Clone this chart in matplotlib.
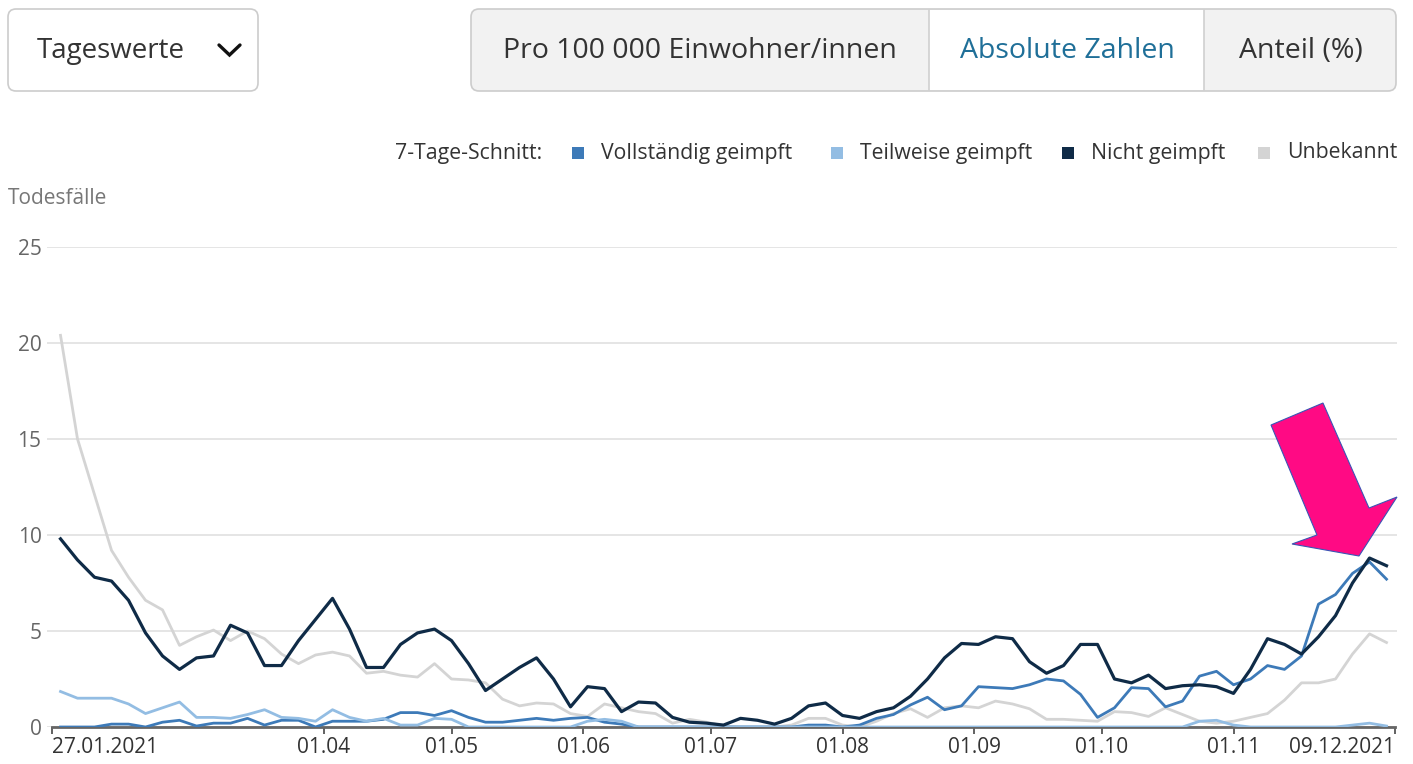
import numpy as np
import pandas as pd
import matplotlib
matplotlib.use("Agg")
import matplotlib.pyplot as plt
import matplotlib.dates as mdates
from matplotlib.patches import FancyBboxPatch, Rectangle, Polygon

plt.rcParams['font.family'] = ['Open Sans', 'DejaVu Sans']

start = pd.Timestamp('2021-01-27')
tage = list(range(2, 315, 4))

vollstaendig = [0, 0, 0, 0.15, 0.15, 0, 0.25, 0.35, 0.05, 0.2,
                0.2, 0.45, 0.1, 0.35, 0.35, 0, 0.3, 0.3, 0.3, 0.4,
                0.75, 0.75, 0.6, 0.85, 0.5, 0.25, 0.25, 0.35, 0.45, 0.35,
                0.45, 0.5, 0.25, 0.15, 0, 0, 0, 0, 0, 0,
                0, 0, 0, 0, 0.1, 0.1, 0, 0.1, 0.45, 0.65,
                1.15, 1.55, 0.9, 1.1, 2.1, 2.05, 2.0, 2.2, 2.5, 2.4,
                1.7, 0.5, 1.0, 2.05, 2.0, 1.05, 1.35, 2.65, 2.9, 2.2,
                2.5, 3.2, 3.0, 3.7, 6.4, 6.9, 8.0, 8.6, 7.7]

teilweise = [1.85, 1.5, 1.5, 1.5, 1.2, 0.7, 1.0, 1.3, 0.5, 0.5,
             0.45, 0.65, 0.9, 0.5, 0.45, 0.3, 0.9, 0.5, 0.3, 0.45,
             0.1, 0.1, 0.45, 0.4, 0, 0, 0, 0, 0, 0,
             0, 0.3, 0.4, 0.3, 0, 0, 0, 0, 0, 0,
             0, 0, 0, 0, 0, 0, 0, 0, 0, 0,
             0, 0, 0, 0, 0, 0, 0, 0, 0, 0,
             0, 0, 0, 0, 0, 0, 0, 0.3, 0.35, 0.1,
             0, 0, 0, 0, 0, 0, 0.1, 0.2, 0.05]

nicht = [9.8, 8.7, 7.8, 7.6, 6.6, 4.9, 3.7, 3.0, 3.6, 3.7,
         5.3, 4.9, 3.2, 3.2, 4.5, 5.6, 6.7, 5.1, 3.1, 3.1,
         4.3, 4.9, 5.1, 4.5, 3.3, 1.9, 2.5, 3.1, 3.6, 2.5,
         1.05, 2.1, 2.0, 0.8, 1.3, 1.25, 0.5, 0.25, 0.2, 0.1,
         0.45, 0.35, 0.15, 0.45, 1.1, 1.25, 0.6, 0.45, 0.8, 1.0,
         1.6, 2.5, 3.6, 4.35, 4.3, 4.7, 4.6, 3.4, 2.8, 3.2,
         4.3, 4.3, 2.5, 2.3, 2.7, 2.0, 2.15, 2.2, 2.1, 1.75,
         3.0, 4.6, 4.3, 3.8, 4.7, 5.8, 7.5, 8.8, 8.4]

unbekannt = [20.4, 15.0, 12.1, 9.2, 7.8, 6.6, 6.1, 4.25, 4.7, 5.05,
             4.5, 5.0, 4.6, 3.8, 3.3, 3.75, 3.9, 3.7, 2.8, 2.9,
             2.7, 2.6, 3.3, 2.5, 2.45, 2.3, 1.45, 1.1, 1.25, 1.2,
             0.7, 0.55, 1.2, 1.0, 0.8, 0.7, 0.2, 0.4, 0.25, 0.05,
             0, 0, 0, 0.1, 0.45, 0.45, 0.1, 0, 0.3, 0.7,
             0.95, 0.5, 1.0, 1.1, 1.0, 1.35, 1.2, 0.95, 0.4, 0.4,
             0.35, 0.3, 0.8, 0.75, 0.55, 1.0, 0.65, 0.3, 0.2, 0.3,
             0.5, 0.7, 1.4, 2.3, 2.3, 2.5, 3.8, 4.85, 4.4]

tick_daten = ['2021-01-27', '2021-04-01', '2021-05-01', '2021-06-01', '2021-07-01',
              '2021-08-01', '2021-09-01', '2021-10-01', '2021-11-01', '2021-12-09']
tick_labels = ['27.01.2021', '01.04', '01.05', '01.06', '01.07',
               '01.08', '01.09', '01.10', '01.11', '09.12.2021']

legende = ['Vollständig geimpft', 'Teilweise geimpft', 'Nicht geimpft', 'Unbekannt']
farben = ['#3d7ab8', '#93bde3', '#0f2b47', '#d4d4d4']

W, H = 1413, 764
fig = plt.figure(figsize=(W / 100, H / 100), dpi=100)

# Diagramm
ax = fig.add_axes([47 / W, 37 / H, 1350 / W, 480 / H])
x = start + pd.to_timedelta(tage, unit='D')
ax.plot(x, unbekannt, color=farben[3], lw=2.0, zorder=2)
ax.plot(x, vollstaendig, color=farben[0], lw=2.0, zorder=3)
ax.plot(x, teilweise, color=farben[1], lw=2.0, zorder=3.5)
ax.plot(x, nicht, color=farben[2], lw=2.3, zorder=4)

ax.set_xlim(start - pd.Timedelta(days=1.18), start + pd.Timedelta(days=316.47))
ax.set_ylim(0, 25)
ax.set_yticks([0, 5, 10, 15, 20, 25])
ax.yaxis.grid(True, color='#e3e3e3', lw=1.3)
ax.set_axisbelow(True)
for s in ['top', 'right', 'left']:
    ax.spines[s].set_visible(False)
ax.spines['bottom'].set_color('#666666')
ax.spines['bottom'].set_linewidth(2)
ax.spines['bottom'].set_bounds(mdates.date2num(pd.Timestamp('2021-01-27')),
                               mdates.date2num(pd.Timestamp('2021-12-09')))
ax.spines['bottom'].set_zorder(1)
ax.tick_params(axis='y', length=0, pad=4, labelsize=15, labelcolor='#666666')
ax.set_xticks(pd.to_datetime(tick_daten))
ax.set_xticklabels(tick_labels)
ax.tick_params(axis='x', length=5, width=1.3, color='#555555', pad=2,
               labelsize=15, labelcolor='#333333')
lbls = ax.get_xticklabels()
lbls[0].set_ha('left')
lbls[-1].set_ha('right')
ax.patch.set_visible(False)

# Overlay in Pixelkoordinaten
ov = fig.add_axes([0, 0, 1, 1], zorder=5)
ov.set_xlim(0, W)
ov.set_ylim(H, 0)
ov.axis('off')
ov.patch.set_visible(False)

# Dropdown
ov.add_patch(FancyBboxPatch((8, 9), 250, 82, boxstyle='round,pad=0,rounding_size=8',
                            fc='white', ec='#cccccc', lw=1.2))
ov.text(37, 51, 'Tageswerte', fontsize=20, color='#333333', va='center', ha='left')
ov.plot([219, 229.5, 240], [45, 55, 45], color='#111111', lw=2.4,
        solid_capstyle='round', solid_joinstyle='miter')

# Umschalter
ov.add_patch(FancyBboxPatch((471, 9), 925, 82, boxstyle='round,pad=0,rounding_size=8',
                            fc='#f2f2f2', ec='#cccccc', lw=1.2))
ov.add_patch(Rectangle((929, 9.6), 275, 80.8, fc='white', ec='none'))
ov.plot([929, 929], [9.6, 90.4], color='#d0d0d0', lw=1.2)
ov.plot([1204, 1204], [9.6, 90.4], color='#d0d0d0', lw=1.2)
ov.text(700, 51, 'Pro 100 000 Einwohner/innen', fontsize=20.5, color='#333333',
        va='center', ha='center')
ov.text(1067, 51, 'Absolute Zahlen', fontsize=20.5, color='#1f6f98',
        va='center', ha='center')
ov.text(1301, 51, 'Anteil (%)', fontsize=20.5, color='#333333',
        va='center', ha='center')

# Legende
ov.text(395, 153, '7-Tage-Schnitt:', fontsize=15.3, color='#333333', va='center')
leg_x = [572, 831, 1062, 1258]
for lx, name, c in zip(leg_x, legende, farben):
    ov.add_patch(Rectangle((lx, 147), 12, 12, fc=c, ec='none'))
    ov.text(lx + 29, 153, name, fontsize=15.3, color='#333333', va='center')

ov.text(8, 198, 'Todesfälle', fontsize=15, color='#777777', va='center')

# Pfeil
pfeil = [(1271, 425), (1323, 403), (1369, 508), (1397, 497),
         (1359, 556), (1292, 544), (1317, 535)]
ov.add_patch(Polygon(pfeil, closed=True, fc='#ff0a84', ec='#3a55b5', lw=0.8))

fig.savefig('out.png', dpi=100)
